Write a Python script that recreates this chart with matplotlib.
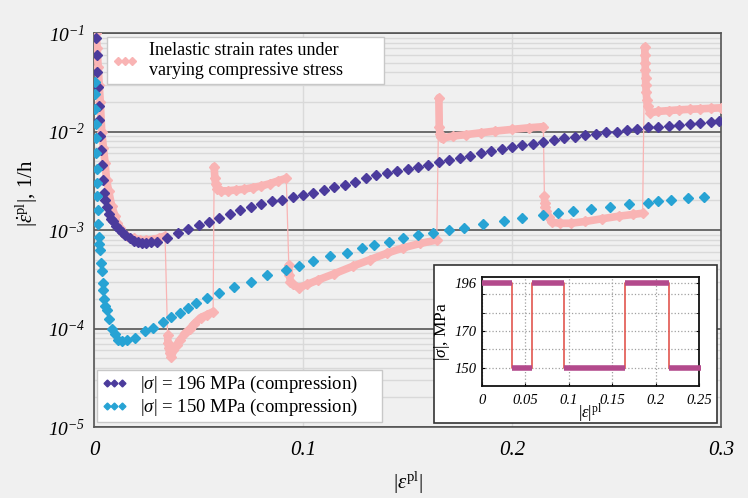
import numpy as np
import matplotlib
matplotlib.use("Agg")
import matplotlib.pyplot as plt
from matplotlib.patches import Rectangle
from matplotlib.ticker import FixedLocator, FuncFormatter, NullFormatter

plt.rcParams['font.family'] = ['Liberation Serif', 'DejaVu Serif']
plt.rcParams['mathtext.fontset'] = 'custom'
plt.rcParams['mathtext.rm'] = 'Liberation Serif'
plt.rcParams['mathtext.it'] = 'Liberation Serif:italic'
plt.rcParams['mathtext.sf'] = 'Liberation Serif:italic'   # used for italic digits
plt.rcParams['mathtext.bf'] = 'Liberation Serif:bold'

# ---------------- data ----------------
# |sigma| = 196 MPa (compression)
eps_196 = [0.0010, 0.0013, 0.0016, 0.0020, 0.0023, 0.0026, 0.0030, 0.0035, 0.0040,
           0.0045, 0.0050, 0.0055, 0.0060, 0.0070, 0.0080, 0.0090, 0.0105, 0.0120,
           0.0135, 0.0150, 0.0170, 0.0190, 0.0210, 0.0230, 0.0250, 0.0275,
           0.030, 0.035, 0.040, 0.045, 0.050, 0.055, 0.060, 0.065, 0.070, 0.075,
           0.080, 0.085, 0.090, 0.095, 0.100, 0.105, 0.110, 0.115, 0.120, 0.125,
           0.130, 0.135, 0.140, 0.145, 0.150, 0.155, 0.160, 0.165, 0.170, 0.175,
           0.180, 0.185, 0.190, 0.195, 0.200, 0.205, 0.210, 0.215, 0.220, 0.225,
           0.230, 0.235, 0.240, 0.245, 0.250, 0.255, 0.260, 0.265, 0.270, 0.275,
           0.280, 0.285, 0.290, 0.295, 0.299]
rate_196 = [9.0e-2, 6.0e-2, 4.0e-2, 2.8e-2, 1.8e-2, 1.3e-2, 9.0e-3, 6.5e-3, 4.6e-3,
            3.2e-3, 2.4e-3, 2.0e-3, 1.7e-3, 1.45e-3, 1.3e-3, 1.22e-3, 1.1e-3, 1.02e-3,
            9.5e-4, 8.8e-4, 8.2e-4, 7.8e-4, 7.5e-4, 7.4e-4, 7.4e-4, 7.5e-4,
            7.6e-4, 8.3e-4, 9.3e-4, 1.02e-3, 1.12e-3, 1.20e-3, 1.32e-3, 1.45e-3, 1.58e-3, 1.70e-3,
            1.82e-3, 1.95e-3, 2.04e-3, 2.16e-3, 2.29e-3, 2.40e-3, 2.57e-3, 2.72e-3, 2.88e-3, 3.09e-3,
            3.35e-3, 3.63e-3, 3.80e-3, 3.98e-3, 4.17e-3, 4.37e-3, 4.62e-3, 4.90e-3, 5.13e-3, 5.37e-3,
            5.69e-3, 6.03e-3, 6.31e-3, 6.61e-3, 6.92e-3, 7.24e-3, 7.50e-3, 7.76e-3, 8.13e-3, 8.51e-3,
            8.81e-3, 9.12e-3, 9.44e-3, 9.77e-3, 1.00e-2, 1.035e-2, 1.06e-2, 1.10e-2, 1.12e-2, 1.15e-2,
            1.17e-2, 1.20e-2, 1.23e-2, 1.26e-2, 1.29e-2]

# |sigma| = 150 MPa (compression)
eps_150 = [0.0005, 0.0006, 0.0007, 0.0008, 0.0009, 0.0010, 0.0012, 0.0014, 0.0016,
           0.0018, 0.0020, 0.0023, 0.0026, 0.0029, 0.0033, 0.0037, 0.0041, 0.0045,
           0.0050, 0.0055, 0.0060, 0.0070, 0.0085, 0.0100, 0.0115, 0.0135, 0.0156,
           0.0196, 0.0244, 0.028, 0.033, 0.037, 0.041, 0.045, 0.049, 0.054, 0.060,
           0.067, 0.075, 0.083, 0.092, 0.098, 0.105, 0.113, 0.121, 0.128, 0.134,
           0.141, 0.148, 0.155, 0.162, 0.170, 0.177, 0.186, 0.196, 0.205, 0.215,
           0.222, 0.229, 0.238, 0.247, 0.256, 0.265, 0.270, 0.276, 0.284, 0.292]
rate_150 = [3.2e-2, 2.4e-2, 1.7e-2, 1.2e-2, 8.5e-3, 6.0e-3, 4.2e-3, 3.0e-3, 2.2e-3,
            1.6e-3, 1.15e-3, 8.5e-4, 7.2e-4, 6.3e-4, 4.6e-4, 3.8e-4, 2.9e-4, 2.45e-4,
            2.0e-4, 1.7e-4, 1.55e-4, 1.25e-4, 1.0e-4, 8.8e-5, 7.6e-5, 7.4e-5, 7.6e-5,
            8.1e-5, 9.5e-5, 1.02e-4, 1.17e-4, 1.32e-4, 1.45e-4, 1.62e-4, 1.8e-4, 2.04e-4, 2.29e-4,
            2.63e-4, 3.0e-4, 3.47e-4, 3.9e-4, 4.3e-4, 4.8e-4, 5.4e-4, 5.9e-4, 6.5e-4, 7.1e-4,
            7.6e-4, 8.3e-4, 8.9e-4, 9.3e-4, 1.0e-3, 1.05e-3, 1.15e-3, 1.23e-3, 1.32e-3, 1.41e-3,
            1.48e-3, 1.55e-3, 1.62e-3, 1.70e-3, 1.82e-3, 1.90e-3, 1.95e-3, 2.04e-3, 2.1e-3, 2.14e-3]

# varying compressive stress, one list per load step
eps_var = [
    [0.0010, 0.0015, 0.0020, 0.0025, 0.0030, 0.0037, 0.0045, 0.0053, 0.0060, 0.0070,
     0.0085, 0.0100, 0.0110, 0.0125, 0.0140, 0.0160, 0.0190, 0.0220, 0.0250, 0.0280,
     0.0310, 0.0340],
    [0.0352, 0.0354, 0.0357, 0.0362, 0.0370, 0.0380, 0.0395, 0.0410, 0.0435, 0.0460,
     0.0480, 0.0510, 0.0540, 0.0570],
    [0.0575, 0.0578, 0.0582, 0.0590, 0.0610, 0.0640, 0.0680, 0.0720, 0.0760, 0.0800,
     0.0840, 0.0880, 0.0920],
    [0.0932, 0.0935, 0.0940, 0.0950, 0.0980, 0.1020, 0.1070, 0.1150, 0.1240, 0.1320,
     0.1400, 0.1480, 0.1560, 0.1640],
    [0.1650, 0.1652, 0.1655, 0.1660, 0.1670, 0.1720, 0.1780, 0.1850, 0.1920, 0.2000,
     0.2080, 0.2150],
    [0.2155, 0.2157, 0.2160, 0.2165, 0.2175, 0.2190, 0.2230, 0.2280, 0.2350, 0.2430,
     0.2510, 0.2580, 0.2625],
    [0.2635, 0.2636, 0.2637, 0.2638, 0.2639, 0.2640, 0.2642, 0.2645, 0.2650, 0.2660,
     0.2700, 0.2750, 0.2800, 0.2850, 0.2900, 0.2950, 0.3000],
]
rate_var = [
    [1.0e-1, 7.0e-2, 4.5e-2, 3.0e-2, 2.0e-2, 1.0e-2, 6.8e-3, 4.8e-3, 3.2e-3, 2.5e-3,
     1.74e-3, 1.40e-3, 1.17e-3, 1.05e-3, 9.3e-4, 8.6e-4, 8.2e-4, 7.9e-4, 7.9e-4, 8.0e-4,
     8.3e-4, 8.7e-4],
    [8.5e-5, 7.1e-5, 6.4e-5, 5.6e-5, 5.1e-5, 6.0e-5, 6.8e-5, 7.6e-5, 8.9e-5, 1.0e-4,
     1.12e-4, 1.29e-4, 1.38e-4, 1.48e-4],
    [4.4e-3, 3.4e-3, 2.9e-3, 2.6e-3, 2.5e-3, 2.5e-3, 2.55e-3, 2.6e-3, 2.7e-3, 2.8e-3,
     2.95e-3, 3.15e-3, 3.35e-3],
    [4.4e-4, 3.5e-4, 3.0e-4, 2.8e-4, 2.6e-4, 2.8e-4, 3.1e-4, 3.6e-4, 4.3e-4, 5.0e-4,
     5.8e-4, 6.6e-4, 7.3e-4, 7.9e-4],
    [2.2e-2, 1.1e-2, 9.5e-3, 8.8e-3, 8.6e-3, 9.0e-3, 9.3e-3, 9.7e-3, 1.01e-2, 1.05e-2,
     1.09e-2, 1.12e-2],
    [2.2e-3, 1.9e-3, 1.7e-3, 1.55e-3, 1.35e-3, 1.2e-3, 1.17e-3, 1.17e-3, 1.22e-3, 1.3e-3,
     1.38e-3, 1.44e-3, 1.48e-3],
    [7.2e-2, 6.0e-2, 5.0e-2, 4.2e-2, 3.5e-2, 3.0e-2, 2.5e-2, 2.1e-2, 1.8e-2, 1.55e-2,
     1.6e-2, 1.63e-2, 1.66e-2, 1.68e-2, 1.70e-2, 1.72e-2, 1.74e-2],
]

# inset: stress history
switch_eps = [0, 0.035, 0.0575, 0.094, 0.165, 0.215, 0.252]
stress_levels = [196, 150, 196, 150, 196, 150]

C_196 = '#4b3b9c'
C_150 = '#27a3d4'
C_VAR = '#f9b4b4'
C_INS = '#b34a8c'
C_INS_LINE = '#e2564f'
BG = '#f0f0f0'
MS = 5
PAD = '\u2003\u2003'   # MATLAB-like empty room at the right of legend texts

fig = plt.figure(figsize=(7.48, 4.98), dpi=100, facecolor=BG)
W, H = 748, 498
ax = fig.add_axes([94 / W, 1 - 427 / H, (721 - 94) / W, (427 - 33) / H], facecolor=BG)

# pink: thin connection through everything, thick band per step
all_e = [e for seg in eps_var for e in seg]
all_r = [r for seg in rate_var for r in seg]
ax.plot(all_e, all_r, color=C_VAR, lw=0.9, zorder=3)
for e, r in zip(eps_var, rate_var):
    ax.plot(e, r, color=C_VAR, lw=5.5, solid_capstyle='round', zorder=3)
    ax.plot(e, r, ls='none', marker='D', ms=MS, color=C_VAR, zorder=3)

ax.plot(eps_196, rate_196, ls='none', marker='D', ms=MS, color=C_196, zorder=4)
ax.plot(eps_150, rate_150, ls='none', marker='D', ms=MS, color=C_150, zorder=4)

ax.set_yscale('log')
ax.set_xlim(0, 0.3)
ax.set_ylim(1e-5, 1e-1)
ax.xaxis.set_major_locator(FixedLocator([0, 0.1, 0.2, 0.3]))
ax.xaxis.set_major_formatter(FuncFormatter(lambda v, p: '0' if v == 0 else '%g' % v))
ax.yaxis.set_major_locator(FixedLocator([1e-5, 1e-4, 1e-3, 1e-2, 1e-1]))
ax.yaxis.set_major_formatter(FuncFormatter(
    lambda v, p: r'$\mathsf{10^{%d}}$' % int(round(np.log10(v)))))
ax.yaxis.set_minor_locator(FixedLocator([m * 10.0 ** k for k in range(-5, -1) for m in range(2, 10)]))
ax.yaxis.set_minor_formatter(NullFormatter())
ax.tick_params(axis='both', which='both', length=0)
ax.tick_params(axis='y', pad=6, labelsize=14)
ax.tick_params(axis='x', pad=10, labelsize=15)
for lab in ax.get_xticklabels():
    lab.set_fontstyle('italic')

ax.grid(True, which='minor', axis='y', color='#d9d9d9', lw=1.0, zorder=0)
ax.grid(True, which='major', axis='y', color='#555555', lw=1.2, zorder=1)
ax.grid(True, which='major', axis='x', color='#dadada', lw=1.0, zorder=0)
for s in ax.spines.values():
    s.set_color('#555555')
    s.set_linewidth(1.2)

ax.set_xlabel(r'$|\varepsilon^{\mathrm{pl}}|$', fontsize=15)
ax.xaxis.set_label_coords(0.5, -0.108)
ax.set_ylabel(r'$|\dot{\varepsilon}^{\mathrm{pl}}|$, 1/h', fontsize=15)
ax.yaxis.set_label_coords(-0.086, 0.594)

h_var, = ax.plot([], [], ls='none', marker='D', ms=3.8, color=C_VAR)
leg1 = ax.legend([h_var], ['Inelastic strain rates under\nvarying compressive stress' + PAD],
                 loc='upper left', bbox_to_anchor=(0.0207, 0.9898), borderaxespad=0,
                 fontsize=13, numpoints=3, handlelength=1.4, frameon=True, fancybox=False,
                 edgecolor='#c8c8c8', framealpha=1, borderpad=0.3, handletextpad=0.6)
ax.add_artist(leg1)
h196, = ax.plot([], [], ls='none', marker='D', ms=3.5, color=C_196)
h150, = ax.plot([], [], ls='none', marker='D', ms=3.5, color=C_150)
ax.legend([h196, h150],
          [r'$|\sigma|$ = 196 MPa (compression)' + PAD,
           r'$|\sigma|$ = 150 MPa (compression)' + PAD],
          loc='lower left', bbox_to_anchor=(0.005, 0.013), borderaxespad=0,
          fontsize=13.5, numpoints=3, handlelength=1.4, frameon=True, fancybox=False,
          edgecolor='#c8c8c8', framealpha=1, borderpad=0.2, labelspacing=0.1,
          handletextpad=0.7)

# inset frame (white box)
fig.patches.append(Rectangle((434 / W, 1 - 423 / H), (717 - 434) / W, (423 - 265) / H,
                             transform=fig.transFigure, facecolor='white',
                             edgecolor='#333333', lw=1.2, zorder=5))
ins = fig.add_axes([482 / W, 1 - 386 / H, (699 - 482) / W, (386 - 277) / H], zorder=6)
ins.plot(switch_eps[:-1] + [switch_eps[-1]], stress_levels + [stress_levels[-1]],
         drawstyle='steps-post', color=C_INS_LINE, lw=1.2, zorder=2)
ins.hlines(stress_levels, switch_eps[:-1], switch_eps[1:], color=C_INS, lw=4, zorder=3,
           clip_on=False)
ins.set_xlim(0, 0.25)
ins.set_ylim(140, 199.5)
ins.set_xticks([0, 0.05, 0.1, 0.15, 0.2, 0.25])
ins.set_xticklabels(['0', '0.05', '0.1', '0.15', '0.2', '0.25'])
ins.set_yticks([150, 170, 196])
ins.set_yticks([160, 180, 190], minor=True)
ins.tick_params(axis='both', which='both', direction='in', length=2.5, right=True, top=False,
                labelsize=10.5)
ins.tick_params(axis='y', pad=4)
ins.tick_params(axis='x', pad=6)
for lab in ins.get_xticklabels() + ins.get_yticklabels():
    lab.set_fontstyle('italic')
ins.grid(True, which='both', color='#a0a0a0', ls=':', lw=0.9)
for s in ins.spines.values():
    s.set_linewidth(1.3)
    s.set_color('#111111')
ins.set_ylabel(r'$|\sigma|$, MPa', fontsize=12.5, labelpad=2)
ins.set_xlabel(r'$|\varepsilon|^{\mathrm{pl}}$', fontsize=12, labelpad=-4)

fig.savefig('out.png', dpi=100, facecolor=BG)
